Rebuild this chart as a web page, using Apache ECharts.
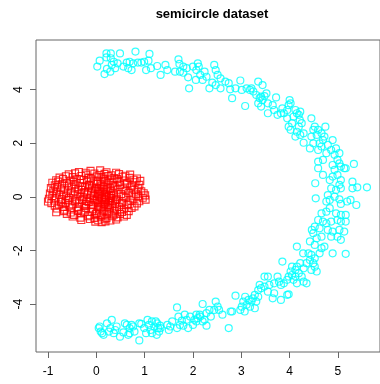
<!DOCTYPE html>
<html>
<head>
<meta charset="utf-8">
<script src="https://cdn.jsdelivr.net/npm/echarts@6/dist/echarts.min.js"></script>
<style>
  html, body { margin: 0; padding: 0; background: #fff; }
  #chart { width: 380px; height: 384px; }
</style>
</head>
<body>
<div id="chart"></div>
<script>
// Chart title and tick positions
const chartTitle = 'semicircle dataset';
const xTicks = [-1, 0, 1, 2, 3, 4, 5];
const yTicks = [-4, -2, 0, 2, 4];

// Class 1: compact blob near the origin (drawn as red squares)
const blobPoints = [
  [-0.36,0.93],[-0.12,0.97],[0.08,0.99],[0.21,0.92],[0.41,0.9],[-0.22,0.9],
  [-0.57,0.84],[-0.44,0.88],[-0.21,0.83],[-0.04,0.87],[0.06,0.82],[0.17,0.86],[0.31,0.81],[0.47,0.85],[0.6,0.79],[0.7,0.83],
  [-0.76,0.72],[-0.63,0.77],[-0.49,0.74],[-0.31,0.78],[-0.16,0.71],[0.01,0.76],[0.13,0.73],[0.24,0.78],[0.37,0.7],[0.54,0.75],[0.69,0.71],[0.84,0.69],
  [-0.83,0.62],[-0.69,0.67],[-0.53,0.61],[-0.41,0.66],[-0.26,0.63],[-0.11,0.68],[0.03,0.6],[0.16,0.66],[0.27,0.62],[0.43,0.67],[0.58,0.61],[0.77,0.64],[0.91,0.6],
  [-0.91,0.53],[-0.79,0.57],[-0.61,0.51],[-0.46,0.56],[-0.34,0.52],[-0.19,0.58],[-0.06,0.54],[0.09,0.5],[0.19,0.57],[0.34,0.53],[0.46,0.56],[0.64,0.51],[0.81,0.55],
  [-0.86,0.43],[-0.71,0.47],[-0.57,0.42],[-0.43,0.46],[-0.29,0.41],[-0.14,0.45],[0.01,0.48],[0.11,0.42],[0.23,0.46],[0.36,0.4],[0.49,0.44],[0.63,0.47],[0.74,0.42],[0.89,0.45],
  [-0.94,0.33],[-0.81,0.37],[-0.66,0.32],[-0.51,0.36],[-0.37,0.31],[-0.23,0.38],[-0.09,0.34],[0.04,0.3],[0.16,0.37],[0.28,0.33],[0.39,0.36],[0.56,0.31],[0.71,0.35],[0.86,0.32],
  [-0.89,0.22],[-0.73,0.27],[-0.59,0.24],[-0.44,0.21],[-0.31,0.26],[-0.17,0.23],[-0.03,0.28],[0.09,0.2],[0.21,0.25],[0.31,0.22],[0.44,0.27],[0.61,0.23],[0.79,0.26],[0.93,0.21],
  [-0.96,0.13],[-0.83,0.17],[-0.67,0.12],[-0.53,0.16],[-0.37,0.11],[-0.25,0.18],[-0.11,0.14],[0.03,0.1],[0.13,0.17],[0.21,0.12],[0.34,0.16],[0.51,0.11],[0.67,0.15],[0.82,0.12],[0.98,0.14],
  [-0.91,0.03],[-0.76,0.07],[-0.63,0.02],[-0.47,0.06],[-0.33,0.01],[-0.19,0.08],[-0.06,0.04],[0.06,0.0],[0.17,0.07],[0.26,0.03],[0.37,0.06],[0.56,0.01],[0.73,0.05],[0.87,0.02],[1.01,0.06],
  [-0.98,-0.07],[-0.84,-0.03],[-0.71,-0.08],[-0.56,-0.04],[-0.41,-0.09],[-0.26,-0.02],[-0.13,-0.06],[0.01,-0.1],[0.11,-0.03],[0.19,-0.08],[0.31,-0.04],[0.43,-0.07],[0.61,-0.02],[0.77,-0.06],[0.96,-0.03],
  [-1.0,-0.17],[-0.87,-0.13],[-0.73,-0.18],[-0.59,-0.12],[-0.44,-0.16],[-0.29,-0.11],[-0.16,-0.19],[-0.02,-0.14],[0.07,-0.18],[0.18,-0.12],[0.29,-0.16],[0.41,-0.11],[0.54,-0.17],[0.71,-0.13],[0.89,-0.16],[1.02,-0.1],
  [-0.93,-0.23],[-0.77,-0.28],[-0.64,-0.22],[-0.49,-0.27],[-0.36,-0.21],[-0.21,-0.26],[-0.08,-0.29],[0.04,-0.22],[0.16,-0.27],[0.25,-0.21],[0.39,-0.26],[0.53,-0.23],[0.66,-0.28],[0.84,-0.24],
  [-0.86,-0.33],[-0.69,-0.37],[-0.56,-0.32],[-0.39,-0.38],[-0.24,-0.34],[-0.11,-0.31],[0.03,-0.36],[0.13,-0.32],[0.23,-0.38],[0.34,-0.33],[0.47,-0.37],[0.63,-0.31],[0.79,-0.35],
  [-0.81,-0.43],[-0.66,-0.48],[-0.51,-0.42],[-0.37,-0.47],[-0.21,-0.41],[-0.07,-0.46],[0.06,-0.43],[0.17,-0.48],[0.27,-0.42],[0.43,-0.46],[0.57,-0.44],[0.73,-0.41],
  [-0.83,-0.57],[-0.67,-0.53],[-0.53,-0.58],[-0.38,-0.52],[-0.26,-0.56],[-0.09,-0.54],[0.01,-0.59],[0.15,-0.53],[0.26,-0.57],[0.37,-0.51],[0.53,-0.56],[0.67,-0.53],
  [-0.61,-0.63],[-0.46,-0.67],[-0.31,-0.62],[-0.14,-0.68],[-0.01,-0.64],[0.11,-0.69],[0.23,-0.62],[0.36,-0.66],[0.49,-0.63],[0.63,-0.67],
  [-0.49,-0.73],[-0.33,-0.77],[-0.17,-0.72],[-0.04,-0.78],[0.09,-0.74],[0.21,-0.79],[0.33,-0.72],[0.44,-0.76],[0.57,-0.73],
  [-0.31,-0.86],[-0.13,-0.82],[0.04,-0.87],[0.17,-0.83],[0.29,-0.88],[0.41,-0.84],
  [0.11,-0.94],[0.19,-0.91],[-0.02,-0.92],
  [0.05,0.12],[0.12,-0.05],[0.2,0.0],[-0.05,-0.1],[0.15,0.3],[0.25,-0.3],[0.0,0.35],[0.3,0.05],
  [-0.1,0.2],[0.18,-0.2],[0.08,0.2],[-0.2,-0.15],[0.35,-0.15],[0.1,-0.38],[-0.15,0.4]
];

// Class 2: noisy half ring of radius ~5 (drawn as cyan circles)
const ringPoints = [
  // top arm
  [0.02,4.86],[0.07,5.08],[0.21,5.35],[0.30,5.35],[0.21,5.20],[0.30,5.17],[0.49,5.35],[0.36,5.04],
  [0.32,4.92],[0.22,4.77],[0.17,4.58],[0.29,4.67],[0.39,4.80],[0.44,4.98],[0.56,4.86],[0.63,5.01],
  [0.69,5.04],[0.76,4.98],[0.81,5.42],[0.66,4.80],[0.73,4.73],[0.86,5.01],[0.93,5.01],[0.99,5.04],
  [1.08,5.08],[1.10,5.33],[1.03,4.73],[1.13,4.80],[1.26,4.88],[1.33,4.55],[1.43,4.92],[1.47,4.73],
  [1.70,5.13],[1.72,4.96],[1.63,4.67],[1.73,4.67],[1.80,4.86],[1.87,4.80],[1.90,4.46],[1.92,4.05],
  [2.00,4.86],[2.07,4.73],[2.10,4.98],[2.12,4.86],[2.15,4.55],[2.20,4.36],[2.24,4.67],[2.28,4.48],
  [2.06,4.36],[1.80,4.63],
  // upper bend
  [2.44,4.92],[2.47,4.73],[2.51,4.55],[2.57,4.42],[2.40,4.26],[2.34,4.05],[2.47,4.17],[2.67,4.30],
  [2.74,4.24],[2.57,4.05],[2.77,4.01],[2.81,3.68],[2.88,4.05],[2.98,4.34],[3.01,3.99],[3.08,3.39],
  [3.11,4.05],[3.18,3.99],[3.21,4.05],[3.25,3.93],[3.35,4.30],[3.44,4.17],[3.31,3.80],[3.38,3.68],
  [3.41,3.74],[3.44,3.61],[3.48,3.76],[3.52,3.86],[3.35,3.49],[3.41,3.37],[3.55,3.49],[3.65,3.42],
  [3.72,3.71],[3.55,3.12],[3.68,3.24],[3.75,3.06],[3.82,3.12],[3.85,3.30],[3.88,3.12],[3.95,3.24],
  [4.00,3.61],[3.98,3.42],[4.02,3.49],[3.95,2.93],[3.98,2.62],[4.05,2.75],[4.02,2.50],[4.12,3.24],
  [4.15,3.12],[4.19,3.06],[4.22,3.18],[4.08,2.99],[4.21,2.87],[4.25,2.75],[4.19,2.62],[4.15,2.43],
  [4.12,2.25],[4.22,2.31],[4.29,2.37],[4.29,2.02],[4.45,2.93],
  // right side
  [4.49,2.50],[4.52,2.62],[4.59,2.50],[4.56,2.31],[4.45,2.25],[4.42,1.81],[4.49,2.00],[4.66,2.37],
  [4.74,2.62],[4.72,2.25],[4.69,2.12],[4.62,2.00],[4.59,1.75],[4.66,1.88],[4.79,1.94],[4.89,2.12],
  [4.86,1.75],[4.96,1.81],[5.03,1.63],[4.93,1.57],[4.76,1.63],[4.59,1.32],[4.69,1.38],[4.59,1.07],
  [4.69,0.82],[4.99,1.38],[5.03,1.25],[4.89,1.19],[4.93,1.01],[5.06,1.13],[5.13,1.07],[5.16,1.07],
  [5.33,1.23],[4.83,0.63],[4.89,0.76],[4.99,0.82],[5.06,0.63],[5.03,0.45],[4.86,0.32],[4.96,0.26],
  [5.06,0.32],[5.30,0.57],[5.30,0.32],[5.40,0.36],[5.60,0.36],[4.53,0.51],[4.54,-0.05],[4.79,0.07],
  [4.76,-0.17],[4.83,-0.11],[4.93,0.01],[5.03,-0.09],[5.06,-0.26],[5.19,-0.17],[5.26,-0.11],[5.38,-0.30],
  [4.83,-0.42],[4.76,-0.55],[4.66,-0.61],[4.96,-0.61],[5.06,-0.67],[5.16,-0.67],[4.59,-0.86],[4.69,-0.92],
  [4.76,-0.98],[4.86,-0.92],[4.99,-0.86],[5.06,-0.92],[5.16,-0.92],[4.52,-1.11],[4.62,-1.17],[4.79,-1.23],
  [4.89,-1.29],[5.03,-1.23],[5.13,-1.29],[4.86,-1.48],[4.99,-1.48],[5.06,-1.60],[4.46,-1.23],[4.49,-1.35],
  [4.56,-1.54],[4.66,-1.48],[4.42,-1.66],[4.52,-1.79],[4.66,-1.91],[4.72,-1.85],[4.62,-2.10],[4.89,-2.10],
  [5.16,-2.12],[4.39,-2.10],[4.45,-2.16],[4.52,-2.29],[4.42,-2.35],[4.28,-2.10],[4.15,-1.85],
  // lower bend
  [4.49,-2.47],[4.52,-2.60],[4.56,-2.78],[4.45,-2.72],[4.35,-2.47],[4.29,-2.66],[4.22,-2.47],[4.15,-2.60],
  [4.12,-2.72],[4.05,-2.60],[4.02,-2.78],[3.98,-2.97],[4.05,-2.91],[4.12,-2.97],[4.19,-2.84],[4.25,-2.97],
  [4.29,-3.16],[4.35,-3.22],[4.15,-3.22],[4.08,-3.09],[3.95,-3.09],[3.88,-3.22],[3.82,-3.28],[3.85,-2.41],
  [3.75,-2.97],[3.78,-3.16],[3.68,-3.22],[3.58,-3.28],[3.48,-3.34],[3.55,-2.97],[3.48,-2.97],[3.41,-3.40],
  [3.38,-3.28],[3.35,-3.47],[3.55,-3.53],[3.68,-3.59],[3.95,-3.65],[3.98,-3.63],[3.65,-3.78],[3.82,-3.84],
  [3.28,-3.65],[3.24,-3.78],[3.35,-3.72],[3.31,-3.90],[3.21,-3.90],[3.15,-3.84],[3.08,-3.72],[3.04,-3.90],
  [3.11,-4.02],[3.18,-4.09],[3.28,-4.15],[3.01,-4.09],[2.98,-4.21],[3.07,-4.27],[2.88,-3.68],[2.81,-4.27],
  [2.78,-4.27],
  // bottom arm
  [2.47,-3.90],[2.51,-4.09],[2.54,-4.21],[2.44,-4.21],[2.61,-4.39],[2.34,-4.21],[2.28,-4.33],[2.20,-3.99],
  [2.14,-4.39],[2.10,-4.52],[2.07,-4.39],[2.03,-4.58],[2.24,-4.58],[2.28,-4.80],[2.37,-4.46],[2.20,-4.64],
  [2.00,-4.77],[1.94,-4.46],[1.87,-4.58],[1.83,-4.39],[1.77,-4.61],[1.70,-4.46],[1.67,-4.12],[1.73,-4.77],
  [1.67,-4.89],[1.57,-4.64],[1.53,-4.83],[1.47,-4.77],[1.50,-4.96],[2.74,-4.89],[1.90,-4.89],[1.80,-4.80],
  [2.07,-4.64],[2.15,-4.46],
  [0.05,-4.89],[0.09,-5.02],[0.07,-4.83],[0.12,-5.08],[0.15,-5.14],[0.22,-4.71],[0.32,-4.58],[0.29,-4.89],
  [0.26,-5.02],[0.39,-4.96],[0.42,-4.83],[0.36,-5.08],[0.49,-5.21],[0.59,-4.71],[0.63,-4.77],[0.66,-5.14],
  [0.69,-4.89],[0.73,-4.77],[0.79,-5.02],[0.76,-4.83],[0.89,-4.71],[0.93,-4.73],[0.89,-5.35],[0.99,-4.89],
  [1.03,-5.08],[1.06,-4.58],[1.09,-4.77],[1.12,-4.96],[1.15,-4.64],[1.20,-4.83],[1.23,-4.64],[1.26,-4.71],
  [1.28,-4.89],[1.30,-5.02],[1.25,-5.14],[1.33,-4.89],[1.32,-4.80],[1.15,-5.08],[0.69,-5.08],[0.56,-5.05]
];

const chart = echarts.init(document.getElementById('chart'), null, { renderer: 'canvas' });

const labelFont = { fontFamily: 'Liberation Sans, Arial, sans-serif', fontSize: 12, color: '#000' };

chart.setOption({
  animation: false,
  backgroundColor: '#fff',
  graphic: [{
    type: 'text',
    x: 212,
    y: 14,
    style: {
      text: chartTitle,
      font: 'bold 13px "Liberation Sans", Arial, sans-serif',
      fill: '#000',
      align: 'center',
      verticalAlign: 'middle'
    }
  }],
  grid: {
    left: 36,
    top: 40,
    width: 353,
    height: 312,
    show: true,
    borderColor: '#666',
    borderWidth: 1,
    backgroundColor: 'transparent'
  },
  xAxis: {
    type: 'value',
    min: -1.248,
    max: 5.87,
    axisLine: { show: false, onZero: false },
    splitLine: { show: false },
    axisTick: { show: true, inside: false, length: 6, lineStyle: { color: '#666' }, customValues: xTicks },
    axisLabel: Object.assign({ margin: 14, customValues: xTicks }, labelFont)
  },
  yAxis: {
    type: 'value',
    min: -5.78,
    max: 5.85,
    axisLine: { show: false, onZero: false },
    splitLine: { show: false },
    axisTick: { show: true, inside: false, length: 6, lineStyle: { color: '#666' }, customValues: yTicks },
    axisLabel: Object.assign({ margin: 11, rotate: 90, customValues: yTicks }, labelFont)
  },
  series: [
    {
      type: 'scatter',
      data: blobPoints,
      symbol: 'rect',
      symbolSize: 7,
      itemStyle: { color: 'rgba(255,0,0,0)', borderColor: '#ff0000', borderWidth: 1.1 },
      emphasis: { disabled: true },
      silent: true
    },
    {
      type: 'scatter',
      data: ringPoints,
      symbol: 'circle',
      symbolSize: 7,
      itemStyle: { color: 'rgba(0,255,255,0)', borderColor: '#00ffff', borderWidth: 1.2 },
      emphasis: { disabled: true },
      silent: true
    }
  ]
});
</script>
</body>
</html>
